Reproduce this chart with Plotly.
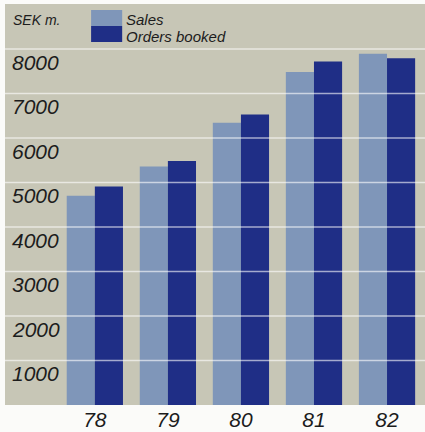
import plotly.graph_objects as go

# Annual figures, SEK millions
years = ["78", "79", "80", "81", "82"]
sales = [4700, 5360, 6340, 7480, 7890]
orders_booked = [4910, 5480, 6525, 7716, 7790]
series_names = ["Sales", "Orders booked"]
y_ticks = [1000, 2000, 3000, 4000, 5000, 6000, 7000, 8000]
unit_label = "SEK m."

LIGHT = "#7f96b9"
DARK = "#1f2e86"
PANEL = "#c7c6b6"
TEXT = "#1c1c1c"
FONT = "Liberation Sans"

fig = go.Figure()
fig.add_trace(go.Bar(x=list(range(len(years))), y=sales, name=series_names[0],
                     marker=dict(color=LIGHT, line=dict(width=0))))
fig.add_trace(go.Bar(x=list(range(len(years))), y=orders_booked, name=series_names[1],
                     marker=dict(color=DARK, line=dict(width=0))))

# white gridlines laid over the bars
for v in y_ticks:
    fig.add_shape(type="line", xref="paper", x0=0, x1=1, yref="y", y0=v, y1=v,
                  line=dict(color="rgba(255,255,255,0.6)", width=1.5), layer="above")

# value labels sit just under each gridline
for v in y_ticks:
    fig.add_annotation(xref="paper", x=0, xanchor="left", xshift=5,
                       yref="y", y=v, yanchor="top", yshift=0,
                       text=str(v), showarrow=False,
                       font=dict(family=FONT, size=21, color=TEXT, style="italic"))

# unit caption
fig.add_annotation(xref="paper", yref="paper", x=0, y=1, xanchor="left", yanchor="middle",
                   xshift=6, yshift=-16, text=unit_label, showarrow=False,
                   font=dict(family=FONT, size=14, color=TEXT, style="italic"))

# legend: swatches with labels
swatch_colors = [LIGHT, DARK]
for i, (name, col) in enumerate(zip(series_names, swatch_colors)):
    fig.add_shape(type="rect", xref="paper", yref="paper",
                  x0=0.205, x1=0.279, y0=1 - (6 + 16 * (i + 1)) / 401,
                  y1=1 - (6 + 16 * i) / 401,
                  fillcolor=col, line=dict(width=0), layer="above")
    fig.add_annotation(xref="paper", yref="paper", x=0.283, xanchor="left",
                       y=1 - (16 + 16 * i) / 401, yanchor="middle",
                       text=name, showarrow=False,
                       font=dict(family=FONT, size=15, color=TEXT, style="italic"))

fig.update_layout(
    width=425, height=432,
    margin=dict(l=5, r=0, t=4, b=27),
    paper_bgcolor="#fbfbf9",
    plot_bgcolor=PANEL,
    barmode="group", bargap=0.23, bargroupgap=0,
    showlegend=False,
    xaxis=dict(range=[-1.23, 4.52], tickmode="array",
               tickvals=list(range(len(years))), ticktext=years,
               showgrid=False, zeroline=False, showline=False, ticks="",
               tickfont=dict(family=FONT, size=21, color=TEXT, style="italic")),
    yaxis=dict(range=[0, 9010], showgrid=False, zeroline=False,
               showticklabels=False, ticks=""),
)

fig.write_html("out.html")
